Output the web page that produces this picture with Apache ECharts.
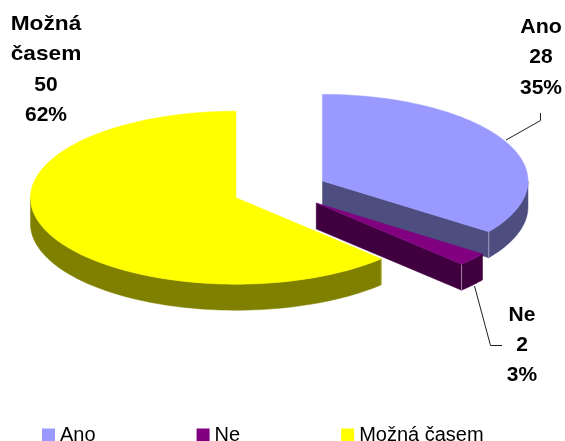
<!DOCTYPE html>
<html>
<head>
<meta charset="utf-8">
<style>html,body{margin:0;padding:0;background:#fff}#c{width:565px;height:441px}</style>
<script src="https://cdn.jsdelivr.net/npm/echarts@6/dist/echarts.min.js"></script>
</head>
<body>
<div id="c"></div>
<script>
var categories = ['Ano', 'Ne', 'Možná časem'];
var labelNames = [['Ano'], ['Ne'], ['Možná', 'časem']];
var values = [28, 2, 50];
var percentLabels = ['35%', '3%', '62%'];
var topColors = ['#9999FF', '#800080', '#FFFF00'];
var wallColors = ['#4D4D80', '#400040', '#808000'];
var edgeColors = ['#9A9AC0', '#A080A0', '#C0C060'];

// layout of the tilted pie
var pie = { cx: 280, cy: 190, rx: 205.5, ry: 86.5, depth: 26, explode: 0.232 };
var labelBoxes = [
  { x: 541, y: 27.5, stretch: 1.02 },
  { x: 522, y: 315, stretch: 1 },
  { x: 46, y: 24.5, stretch: 1.08 }
];
var labelLineHeight = 30.2;
var leaders = [
  [[506, 140], [540.5, 120.5], [540.5, 113]],
  [[474.5, 286], [490.5, 345.5], [502, 345.5]],
  null
];

var total = values.reduce(function (a, b) { return a + b; }, 0);

function pt(c, deg, dy) {
  var t = deg * Math.PI / 180;
  return [c.x + pie.rx * Math.sin(t), c.y - pie.ry * Math.cos(t) + (dy || 0)];
}
function arc(c, a, b, dy) {
  var out = [], n = Math.max(2, Math.ceil(Math.abs(b - a) / 2));
  for (var i = 0; i <= n; i++) out.push(pt(c, a + (b - a) * i / n, dy));
  return out;
}
function poly(points, fill) {
  return { type: 'polygon', silent: true, shape: { points: points }, style: { fill: fill, stroke: fill, lineWidth: 0.5 } };
}
function line(points, color, w) {
  return { type: 'polyline', silent: true, shape: { points: points }, style: { fill: null, stroke: color, lineWidth: w } };
}
function face(c, deg, fill) {
  var p = pt(c, deg);
  return poly([[c.x, c.y], p, [p[0], p[1] + pie.depth], [c.x, c.y + pie.depth]], fill);
}
function textLine(str, x, y, stretch) {
  return {
    type: 'text', silent: true, x: x, y: y, scaleX: stretch,
    style: {
      x: 0, y: 0, text: str, align: 'center', verticalAlign: 'middle', fill: '#000000',
      font: 'bold 21px "Liberation Sans", Arial, sans-serif'
    }
  };
}

function renderSlice(idx) {
  return function (params, api) {
    var before = 0;
    for (var i = 0; i < idx; i++) before += values[i];
    var v = api.value(0);
    var a = before / total * 360, b = (before + v) / total * 360, mid = (a + b) / 2;
    var t = mid * Math.PI / 180;
    var c = {
      x: pie.cx + pie.explode * pie.rx * Math.sin(t),
      y: pie.cy - pie.explode * pie.ry * Math.cos(t)
    };
    var kids = [];
    // visible side walls
    if (a > 180 && a < 360) kids.push(face(c, a, wallColors[idx]));
    if (b > 0 && b < 180) kids.push(face(c, b, wallColors[idx]));
    var wa = Math.max(a, 90), wb = Math.min(b, 270);
    if (wb > wa) {
      var upper = arc(c, wa, wb, 0), lower = arc(c, wb, wa, pie.depth);
      kids.push(poly(upper.concat(lower), wallColors[idx]));
      var q = pt(c, b < 180 ? b : a);
      kids.push(line([q, [q[0], q[1] + pie.depth]], edgeColors[idx], 1));
    }
    // top
    kids.push(poly([[c.x, c.y]].concat(arc(c, a, b, 0)), topColors[idx]));
    // label and leader line
    if (leaders[idx]) kids.push(line(leaders[idx], '#202020', 1));
    var box = labelBoxes[idx], y = box.y;
    labelNames[idx].forEach(function (word) {
      kids.push(textLine(word, box.x, y, box.stretch));
      y += labelLineHeight;
    });
    kids.push(textLine(String(v), box.x, y, 1));
    kids.push(textLine(percentLabels[idx], box.x, y + labelLineHeight, 1));
    return { type: 'group', children: kids };
  };
}

var chart = echarts.init(document.getElementById('c'), null, { renderer: 'canvas' });
chart.setOption({
  animation: false,
  backgroundColor: '#ffffff',
  legend: {
    data: categories, left: 42, top: 425, orient: 'horizontal',
    icon: 'rect', itemWidth: 13, itemHeight: 13, itemGap: 101,
    textStyle: { color: '#000000', fontSize: 20, fontFamily: '"Liberation Sans", Arial, sans-serif', padding: [0, 0, 0, 0] },
    selectedMode: false, padding: 0
  },
  series: categories.map(function (name, i) {
    return {
      type: 'custom', name: name, coordinateSystem: 'none',
      itemStyle: { color: topColors[i] },
      renderItem: renderSlice(i),
      data: [[values[i]]],
      silent: true
    };
  })
});
</script>
</body>
</html>
